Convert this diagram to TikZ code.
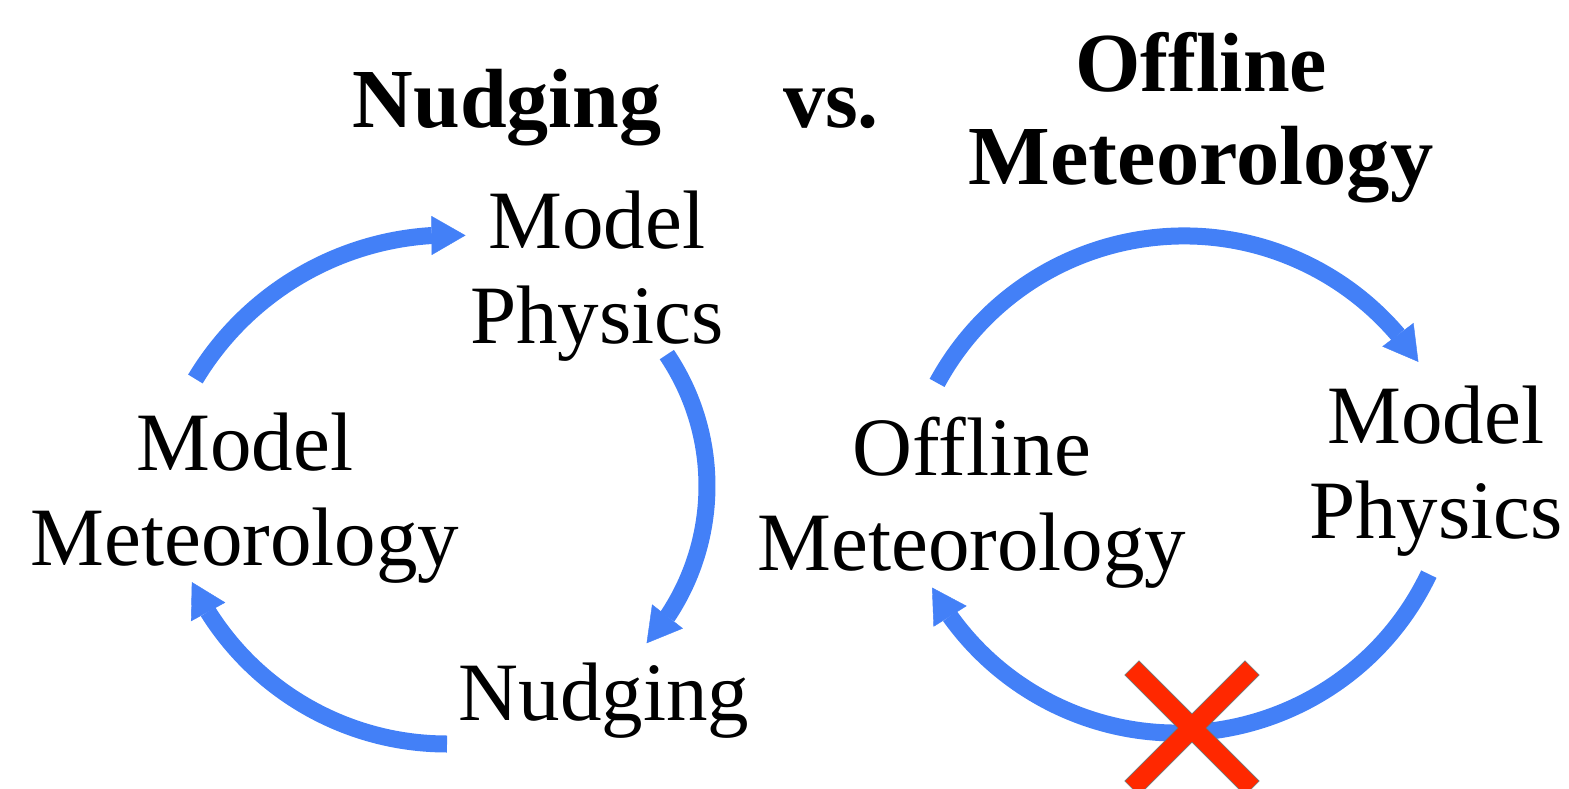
\documentclass[tikz,border=0pt]{standalone}
\usepackage{fontspec}
\setmainfont{Liberation Serif}
\usetikzlibrary{arrows.meta,bending}
\definecolor{flowblue}{RGB}{67,128,247}
\definecolor{xred}{RGB}{255,40,0}
\begin{document}
\begin{tikzpicture}[x=1pt,y=-1pt,
  lbl/.style={font=\fontsize{83}{95}\selectfont, align=center, inner sep=0pt, anchor=base},
  ttl/.style={font=\fontsize{84}{93}\selectfont\bfseries, align=center, inner sep=0pt, anchor=base},
  flow/.style={draw=flowblue, line width=17pt,
    -{Triangle[width=39pt,length=34pt,line width=0.4pt,flex]}}]
\useasboundingbox (0,0) rectangle (1569,789);

% titles (base anchor = baseline of the last line)
\node[ttl] (t1) at (507,128) {Nudging};
\node[ttl] (t2) at (831,128) {vs.};
\node[ttl] (t3) at (1201,185) {Offline\\\scalebox{1.03}[1]{Meteorology}};

% left cycle
\node[lbl] (mm) at (245,565) {Model\\Meteorology};
\node[lbl] (mp) at (597,343) {Model\\Physics};
\node[lbl] (nd) at (604,720) {Nudging};

\coordinate (a1) at (195.4,379.0);
\coordinate (a2) at (666.8,354.6);
\coordinate (a3) at (447,744);
\draw[flow] (a1) arc[start angle=211, end angle=273, radius=297];
\draw[flow] (a2) arc[start angle=-34, end angle=42, radius=235];
\draw[flow] (a3) arc[start angle=90, end angle=154.8, radius=282];

% right cycle
\node[lbl] (om) at (972,570) {Offline\\Meteorology};
\node[lbl] (mp2) at (1436,538) {Model\\Physics};

\coordinate (b1) at (937.1,382.9);
\coordinate (b2) at (1428.8,574.1);
\draw[flow] (b1) arc[start angle=208.5, end angle=326.5, radius=281];
\draw[flow] (b2) arc[start angle=25.5, end angle=151.4, radius=279];

% red cross
\begin{scope}[shift={(1192,728)}, rotate=45]
  \filldraw[fill=xred, draw=black!55, line width=0.6pt]
    (10,10) -- (85,10) -- (85,-10) -- (10,-10) -- (10,-85) -- (-10,-85)
    -- (-10,-10) -- (-85,-10) -- (-85,10) -- (-10,10) -- (-10,85) -- (10,85) -- cycle;
\end{scope}
\end{tikzpicture}
\end{document}
